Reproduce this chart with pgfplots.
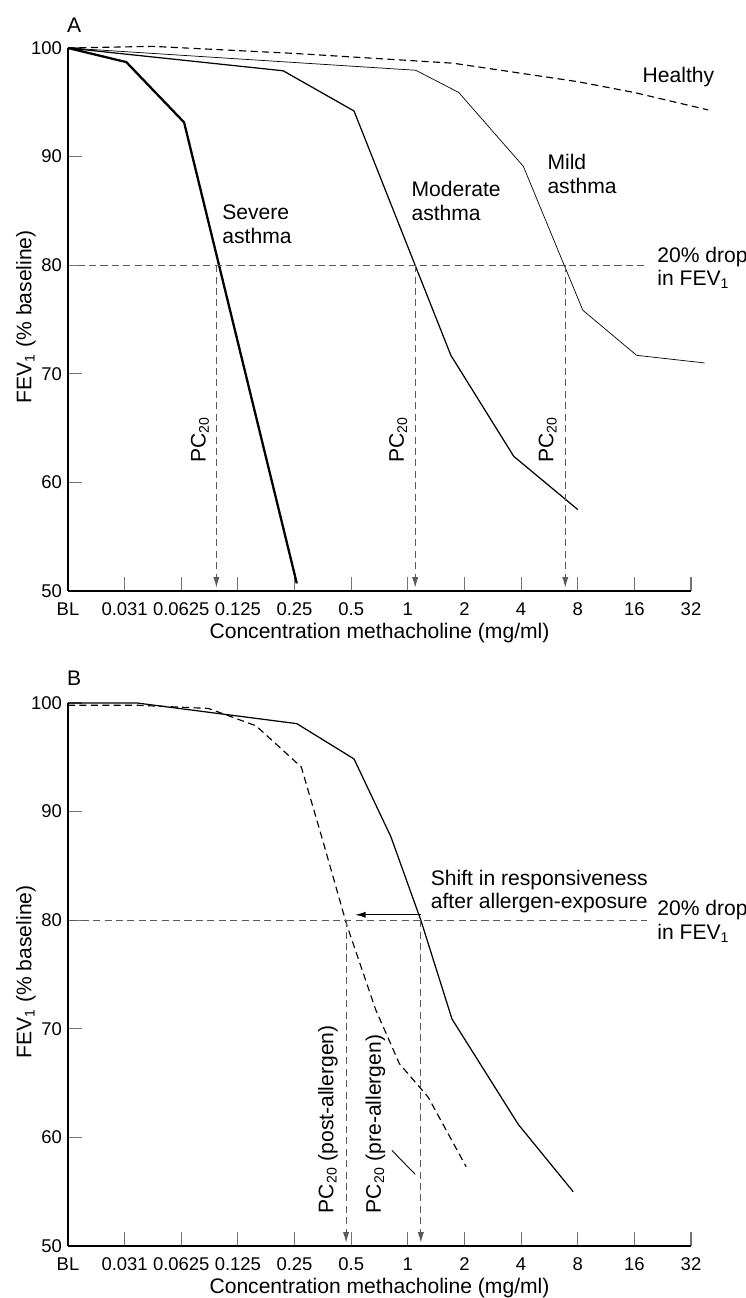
\documentclass[border=0pt]{standalone}
\usepackage{fontspec}
\setmainfont{Liberation Sans}
\usepackage{pgfplots}
\pgfplotsset{compat=1.18}
\usetikzlibrary{arrows.meta}

\pgfplotsset{
  panel/.style={
    width=12.46cm, height=10.86cm, scale only axis,
    xmin=0, xmax=11, ymin=50, ymax=100,
    axis x line*=bottom, axis y line*=left,
    axis line style={-, line width=0.6pt},
    xtick={0,...,11},
    xticklabels={BL,0.031,0.0625,0.125,0.25,0.5,1,2,4,8,16,32},
    ytick={50,60,...,100},
    tick align=inside, major tick length=0.28cm,
    tick style={black!55, line width=0.6pt},
    ticklabel style={font=\fontsize{10.5}{12}\selectfont},
    xticklabel style={yshift=-0.11cm},
    /pgf/number format/assume math mode=true,
    xlabel={Concentration methacholine (mg/ml)},
    ylabel={FEV\textsubscript{1} (\% baseline)},
    label style={font=\fontsize{12}{14}\selectfont},
    xlabel style={at={(axis description cs:0.5,0)}, anchor=base, yshift=-0.946cm},
    ylabel style={at={(axis description cs:-0.0588,0.505)}, anchor=base},
    clip=false,
  },
  ref/.style={black!65, line width=0.6pt, dash pattern=on 4pt off 2.5pt},
  pc/.style={black!65, line width=0.6pt, dash pattern=on 4pt off 2.5pt,
    -{Latex[length=6pt,width=3.5pt]}},
}
\tikzset{
  txt/.style={font=\fontsize{12}{13.5}\selectfont, align=left, anchor=west, inner sep=0pt},
}

\begin{document}
\begin{tikzpicture}
\useasboundingbox (-1.36,-14.14) rectangle (13.54,11.82);

% ---------------- panel A ----------------
\begin{axis}[panel, at={(0,0)}, anchor=south west]
  % healthy
  \addplot[black, line width=0.65pt, dash pattern=on 4pt off 2.5pt]
    coordinates {(0,100) (1.5,100.15) (4,99.5) (6.8,98.6) (9,96.9) (10,95.9) (11.3,94.3)};
  % mild asthma
  \addplot[black, line width=0.4pt]
    coordinates {(0,100) (6.14,97.95) (6.9,95.9) (8.04,89.1) (9.09,75.85) (10.04,71.7) (11.24,71.0)};
  % moderate asthma
  \addplot[black, line width=0.7pt]
    coordinates {(0,100) (3.8,97.9) (5.05,94.2) (6.76,71.7) (7.87,62.4) (9.0,57.5)};
  % severe asthma
  \addplot[black, line width=1.3pt]
    coordinates {(0,100) (1.03,98.7) (2.05,93.15) (4.04,50.7)};

  % 20% drop line and PC20 arrows
  \addplot[ref] coordinates {(0.17,80) (10.23,80)};
  \addplot[pc] coordinates {(2.62,80) (2.62,50.3)};
  \addplot[pc] coordinates {(6.13,80) (6.13,50.3)};
  \addplot[pc] coordinates {(8.78,80) (8.78,50.3)};

  \node[txt, rotate=90] at (axis cs:2.33,61.8) {PC\textsubscript{20}};
  \node[txt, rotate=90] at (axis cs:5.83,61.8) {PC\textsubscript{20}};
  \node[txt, rotate=90] at (axis cs:8.47,61.8) {PC\textsubscript{20}};

  \node[txt] at (axis cs:10.14,97.3) {Healthy};
  \node[txt] at (axis cs:8.46,88.4) {Mild\\asthma};
  \node[txt] at (axis cs:6.06,85.9) {Moderate\\asthma};
  \node[txt] at (axis cs:2.72,83.8) {Severe\\asthma};
  \node[txt] at (axis cs:10.4,79.75) {20\% drop\\in FEV\textsubscript{1}};
  \node[txt] at (axis cs:-0.02,102.1) {A};
\end{axis}

% ---------------- panel B ----------------
\begin{axis}[panel, at={(0,-13.1cm)}, anchor=south west]
  % pre-allergen
  \addplot[black, line width=0.7pt]
    coordinates {(0,100) (1.22,100) (4.04,98.1) (5.05,94.85) (5.7,87.7) (6.23,80) (6.78,70.9) (7.95,61.2) (8.92,55.0)};
  % post-allergen
  \addplot[black, line width=0.65pt, dash pattern=on 4pt off 2.5pt]
    coordinates {(0,99.8) (1.2,99.8) (2.48,99.5) (3.32,97.9) (4.12,94.1) (4.5,87.3) (4.92,79.6) (5.43,71.8) (5.85,66.8) (6.36,63.7) (7.03,57.3)};

  \addplot[ref] coordinates {(0.04,80) (10.23,80)};
  \addplot[pc] coordinates {(4.91,80) (4.91,50.3)};
  \addplot[pc] coordinates {(6.23,80) (6.23,50.3)};
  \addplot[black, line width=0.7pt, -{Latex[length=6pt,width=3.5pt]}]
    coordinates {(6.23,80.5) (5.07,80.5)};
  \addplot[black, line width=0.5pt] coordinates {(5.72,58.8) (6.13,56.6)};

  \node[txt, rotate=90] at (axis cs:4.59,53.0) {PC\textsubscript{20} (post-allergen)};
  \node[txt, rotate=90] at (axis cs:5.43,53.0) {PC\textsubscript{20} (pre-allergen)};
  \node[txt] at (axis cs:6.40,82.65) {Shift in responsiveness\\after allergen-exposure};
  \node[txt] at (axis cs:10.4,79.9) {20\% drop\\in FEV\textsubscript{1}};
  \node[txt] at (axis cs:-0.02,102.25) {B};
\end{axis}
\end{tikzpicture}
\end{document}
